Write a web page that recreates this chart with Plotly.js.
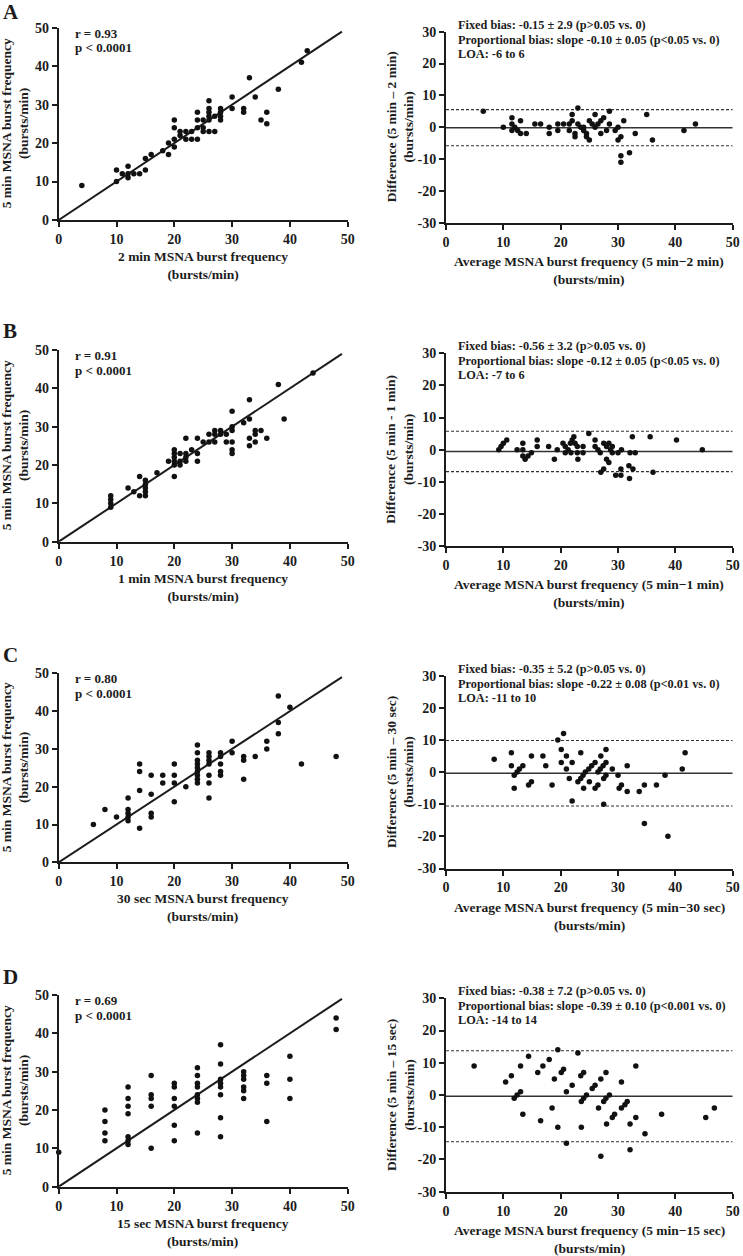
<!DOCTYPE html>
<html><head><meta charset="utf-8">
<script src="https://cdn.plot.ly/plotly-3.0.1.min.js"></script>
<style>html,body{margin:0;padding:0;background:#fff}</style>
</head><body><div id="chart" style="width:743px;height:1256px"></div>
<script>
// ---------- DATA ----------
const panelLetters = ['A','B','C','D'];
const leftXTitles = ['2 min MSNA burst frequency','1 min MSNA burst frequency','30 sec MSNA burst frequency','15 sec MSNA burst frequency'];
const leftYTitle = '5 min MSNA burst frequency';
const unitsLabel = '(bursts/min)';
const rightXTitles = ['Average MSNA burst frequency (5 min\u22122 min)','Average MSNA burst frequency (5 min\u22121 min)','Average MSNA burst frequency (5 min\u221230 sec)','Average MSNA burst frequency (5 min\u221215 sec)'];
const rightYTitles = ['Difference (5 min \u2013 2 min)','Difference (5 min - 1 min)','Difference (5 min \u2013 30 sec)','Difference (5 min \u2013 15 sec)'];
const rTexts = ['r = 0.93','r = 0.91','r = 0.80','r = 0.69'];
const pTexts = ['p < 0.0001','p < 0.0001','p < 0.0001','p < 0.0001'];
const fixedBiasTexts = ['Fixed bias: -0.15 \u00b1 2.9 (p>0.05 vs. 0)','Fixed bias: -0.56 \u00b1 3.2 (p>0.05 vs. 0)','Fixed bias: -0.35 \u00b1 5.2 (p>0.05 vs. 0)','Fixed bias: -0.38 \u00b1 7.2 (p>0.05 vs. 0)'];
const propBiasTexts = ['Proportional bias: slope -0.10 \u00b1 0.05 (p<0.05 vs. 0)','Proportional bias: slope -0.12 \u00b1 0.05 (p<0.05 vs. 0)','Proportional bias: slope -0.22 \u00b1 0.08 (p<0.01 vs. 0)','Proportional bias: slope -0.39 \u00b1 0.10 (p<0.001 vs. 0)'];
const loaTexts = ['LOA: -6 to 6','LOA: -7 to 6','LOA: -11 to 10','LOA: -14 to 14'];
const biasMean = [-0.15,-0.56,-0.35,-0.38];
const loaUpper = [5.53,5.71,9.84,13.73];
const loaLower = [-5.83,-6.83,-10.54,-14.49];
const identityX = [0,49];
const identityY = [0,49];
const scatterTicks = [0,10,20,30,40,50];
const scatterTickLabels = ['0','10','20','30','40','50'];
const baYTicks = [-30,-20,-10,0,10,20,30];
const baYTickLabels = ['-30','-20','-10','0','10','20','30'];

// Panel A
const aX = [4,10,10,11,12,12,12,13,14,15,15,16,18,19,19,20,20,20,20,21,21,22,22,23,23,24,24,24,24,25,25,25,26,26,26,26,26,26,27,27,28,28,28,28,30,30,32,32,33,34,35,36,36,38,42,43];
const aY = [9,13,10,12,12,14,11,12,12,13,16,17,18,17,20,19,21,24,26,22,23,23,21,21,23,21,24,26,28,24,26,23,23,26,27,28,29,31,23,27,27,26,28,29,29,32,29,28,37,32,26,25,28,34,41,44];
const aAvg = [6.5,10,11.5,11.5,11.5,12,12.5,13,13,14,15.5,16.5,18,18,19.5,19.5,20.5,21.5,21.5,22,22,22.5,22.5,23,23,23.5,24,24,24.5,24.5,25,25,25.5,26,26,26.5,27,27,27.5,28,28.5,28.5,29.5,30,30,30.5,30.5,30.5,31,32,33,35,36,41.5,43.5];
const aDiff = [5,0,3,1,-1,0,-1,-2,2,-2,1,1,0,-2,1,-1,1,1,-1,4,2,-2,-3,6,1,0,-1,0,-2,-3,-4,2,1,4,0,1,2,-2,3,-1,1,5,-1,0,-4,-3,-9,-11,2,-8,-2,4,-4,-1,1];
// Panel B
const bX = [9,9,9,9,12,13,14,14,15,15,15,15,15,17,19,20,20,20,20,20,20,21,21,21,22,22,22,22,23,24,24,24,25,26,26,27,27,27,28,28,29,29,30,30,30,30,30,30,32,33,33,33,33,34,34,34,35,36,38,39,44];
const bY = [9,10,11,12,14,13,17,12,16,15,14,13,12,18,21,17,20,21,22,23,24,20,21,23,21,22,23,27,24,27,23,21,26,26,28,29,28,26,29,28,28,26,34,30,29,26,24,23,31,37,32,27,25,29,28,26,29,27,41,32,44];
const bAvg = [9.2,9.6,10,10.6,12.4,13.4,13.4,13.4,13.8,14.3,14.9,15.9,15.9,17.9,18.9,19.4,20.4,20.8,20.8,21.3,21.7,21.8,22,22.3,22.5,22.9,23,22.9,23.9,23.9,24.9,26,26,26.5,26.9,27,27.5,27.5,28,28,28.4,28.4,28.7,29,29,29.6,30,30.5,30.5,30.6,31.9,32,32.1,32.5,32.6,33,35.6,36.1,40.2,44.7];
const bDiff = [0,1,2,3,0,2,0,-2,-3,-2,-1,3,1,1,-3,0,2,1,-1,0,2,-1,3,4,2,1,-3,-1,1,-1,5,3,1,0,-1,-7,-6,2,1,-3,-4,2,0,1,-1,-8,-1,-6,-8,0,-5,-9,-1,4,-6,-1,4,-7,3,0];
// Panel C
const cX = [6,8,10,12,12,12,12,12,14,14,14,14,16,16,16,16,18,18,20,20,20,20,22,24,24,24,24,24,24,24,24,24,26,26,26,26,26,26,26,28,28,28,28,28,30,30,32,32,32,34,36,36,38,38,38,40,42,48];
const cY = [10,14,12,17,14,13,12,11,26,24,19,9,23,18,13,12,23,21,26,23,21,16,20,31,29,27,26,25,24,23,22,21,29,28,27,26,23,21,17,29,28,26,24,23,32,29,28,27,22,28,32,30,44,37,34,41,26,28];
const cAvg = [8.4,11.4,11.4,11.9,11.9,12.4,12.8,13.4,14.4,14.9,14.9,16.9,17.4,18.5,19.5,20.1,20.1,20.5,21,21,21.5,22,22,23,23.5,23.5,23.9,24,24.3,24.9,25,25.4,26,26,26.5,26.5,26.9,27,27.4,27.5,27.5,27.9,27.9,27.9,29,30,30.2,30.6,31.6,31.6,33.7,34.6,34.6,36.7,38.2,38.7,41.2,41.7];
const cDiff = [4,6,2,-1,-5,0,1,2,-4,-3,5,5,2,-4,10,7,3,12,5,1,-2,3,-9,-3,6,-2,-1,-5,0,1,-3,2,3,-5,-4,0,1,5,2,-2,-10,3,7,-1,1,-1,-5,-4,2,-6,-6,-4,-16,-4,-1,-20,1,6];
// Panel D
const dX = [0,8,8,8,8,12,12,12,12,12,12,12,16,16,16,16,16,20,20,20,20,20,20,24,24,24,24,24,24,24,24,28,28,28,28,28,28,28,28,32,32,32,32,32,32,36,36,36,40,40,40,48,48];
const dY = [9,20,17,14,12,26,23,21,19,13,12,11,29,24,23,21,10,27,26,23,21,16,12,31,29,27,26,24,23,22,14,37,32,28,27,26,24,18,13,30,29,28,26,25,23,29,27,17,34,28,23,44,41];
const dAvg = [4.9,10.4,11.4,11.9,12.4,13,13,13.4,14.4,16,16.5,16.9,18,18.5,18.9,19.5,19.5,20.1,20.5,21,21,22,23,23.5,23.6,23.6,24,24,24.5,25.5,26,26.6,27,27,27.5,27.9,27.9,28,28.5,29,29.4,30.6,30.6,31.2,31.6,32.1,32.1,33.1,33.1,34.7,37.6,45.3,46.8];
const dDiff = [9,4,6,-1,0,1,9,-6,12,7,-8,9,11,-4,5,14,-10,7,8,1,-15,3,13,6,-2,-10,7,-1,0,2,3,-4,5,-19,-2,7,-1,-9,0,-7,-6,-4,4,-3,-2,-9,-17,9,-7,-12,-6,-7,-4];

const scatterXs = [aX,bX,cX,dX];
const scatterYs = [aY,bY,cY,dY];
const baXs = [aAvg,bAvg,cAvg,dAvg];
const baYs = [aDiff,bDiff,cDiff,dDiff];

// ---------- LAYOUT GEOMETRY ----------
const W = 743, H = 1256;
const px = x => x / W, py = y => 1 - y / H;
const FONT = 'Liberation Serif, Times New Roman, serif';
const INK = '#1c1c1c';
const leftXpx = [58.7, 347.7], rightXpx = [446, 732.7];
const leftRows = [[27.7,220],[350,541.7],[673.3,862.3],[995,1186.7]];
const rightRows = [[31.7,222.7],[353.3,546],[675.7,868.5],[998.3,1191.7]];
const letterY = [12, 331, 655, 977];
const bold = s => '<b>' + s + '</b>';

function baseAxis(domain, anchor, range, tickvals, ticktext) {
  return {
    domain, anchor, range, tickmode:'array', tickvals, ticktext: ticktext.map(bold),
    showgrid:false, zeroline:false, showline:true, linecolor:INK, linewidth:2,
    ticks:'outside', ticklen:5, tickwidth:2, tickcolor:INK,
    tickfont:{family:FONT, size:14, color:INK, weight:'bold'}, fixedrange:true
  };
}

const traces = [];
const layout = {
  width:W, height:H, margin:{l:0,r:0,t:0,b:0}, showlegend:false,
  paper_bgcolor:'#fff', plot_bgcolor:'#fff',
  font:{family:FONT, color:INK}, annotations:[]
};
const ann = (text, x, y, opts) => Object.assign({
  text:bold(text), x:px(x), y:py(y), xref:'paper', yref:'paper',
  showarrow:false, font:{family:FONT, size:12.3, color:INK}
}, opts||{});

for (let i = 0; i < 4; i++) {
  const L = 2*i+1, R = 2*i+2;
  const lx = 'x'+(L===1?'':L), ly = 'y'+(L===1?'':L);
  const rx = 'x'+R, ry = 'y'+R;
  const lr = leftRows[i], rr = rightRows[i];
  const lxDom = [px(leftXpx[0]), px(leftXpx[1])];
  const rxDom = [px(rightXpx[0]), px(rightXpx[1])];
  const lyDom = [py(lr[1]), py(lr[0])];
  const ryDom = [py(rr[1]), py(rr[0])];
  layout['xaxis'+(L===1?'':L)] = baseAxis(lxDom, ly, [0,50], scatterTicks, scatterTickLabels);
  layout['yaxis'+(L===1?'':L)] = baseAxis(lyDom, lx, [0,50], scatterTicks, scatterTickLabels);
  layout['xaxis'+R] = baseAxis(rxDom, ry, [0,50], scatterTicks, scatterTickLabels);
  layout['yaxis'+R] = baseAxis(ryDom, rx, [-30,30], baYTicks, baYTickLabels);

  // left: identity line + points
  traces.push({type:'scatter', mode:'lines', x:identityX, y:identityY, xaxis:lx, yaxis:ly,
    line:{color:INK, width:2}, hoverinfo:'skip', cliponaxis:false});
  traces.push({type:'scatter', mode:'markers', x:scatterXs[i], y:scatterYs[i], xaxis:lx, yaxis:ly,
    marker:{size:5.5, color:'#111'}, cliponaxis:false});
  // right: bias + LOA lines + points
  traces.push({type:'scatter', mode:'lines', x:[0,50], y:[biasMean[i],biasMean[i]], xaxis:rx, yaxis:ry,
    line:{color:'#333', width:1.5}, hoverinfo:'skip'});
  traces.push({type:'scatter', mode:'lines', x:[0,50], y:[loaUpper[i],loaUpper[i]], xaxis:rx, yaxis:ry,
    line:{color:'#333', width:1.1, dash:'3px,2px'}, hoverinfo:'skip'});
  traces.push({type:'scatter', mode:'lines', x:[0,50], y:[loaLower[i],loaLower[i]], xaxis:rx, yaxis:ry,
    line:{color:'#333', width:1.1, dash:'3px,2px'}, hoverinfo:'skip'});
  traces.push({type:'scatter', mode:'markers', x:baXs[i], y:baYs[i], xaxis:rx, yaxis:ry,
    marker:{size:5.5, color:'#111'}, cliponaxis:false});

  // panel letter
  layout.annotations.push(ann(panelLetters[i], 2, letterY[i], {xanchor:'left', yanchor:'middle', borderpad:0, font:{family:FONT,size:21,color:INK}}));
  // r / p
  layout.annotations.push(ann(rTexts[i], 73, lr[0]+5.3, {xanchor:'left', yanchor:'middle', font:{family:FONT,size:13,color:INK}}));
  layout.annotations.push(ann(pTexts[i], 73, lr[0]+20.3, {xanchor:'left', yanchor:'middle', font:{family:FONT,size:13,color:INK}}));
  // bias texts
  layout.annotations.push(ann(fixedBiasTexts[i], 455.5, rr[0]-7, {xanchor:'left', yanchor:'middle'}));
  layout.annotations.push(ann(propBiasTexts[i], 455.5, rr[0]+7.8, {xanchor:'left', yanchor:'middle'}));
  layout.annotations.push(ann(loaTexts[i], 455.5, rr[0]+22, {xanchor:'left', yanchor:'middle'}));
  // axis titles
  const lcx = (leftXpx[0]+leftXpx[1])/2, rcx = (rightXpx[0]+rightXpx[1])/2;
  const tf = {family:FONT,size:13.5,color:INK};
  layout.annotations.push(ann(leftXTitles[i]+'<br>'+unitsLabel, lcx, lr[1]+45.5, {xanchor:'center', yanchor:'middle', font:tf}));
  layout.annotations.push(ann(rightXTitles[i]+'<br>'+unitsLabel, rcx, rr[1]+48, {xanchor:'center', yanchor:'middle', font:tf}));
  layout.annotations.push(ann(leftYTitle+'<br>'+unitsLabel, 15.5, (lr[0]+lr[1])/2, {xanchor:'center', yanchor:'middle', textangle:-90, font:tf}));
  layout.annotations.push(ann(rightYTitles[i]+'<br>'+unitsLabel, 400, (rr[0]+rr[1])/2, {xanchor:'center', yanchor:'middle', textangle:-90, font:tf}));
}

Plotly.newPlot('chart', traces, layout, {staticPlot:true, displayModeBar:false});
</script></body></html>
